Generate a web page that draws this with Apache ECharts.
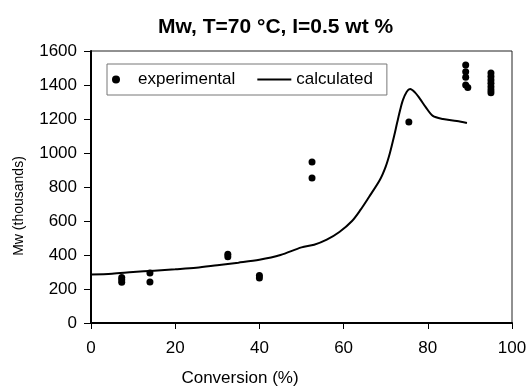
<!DOCTYPE html>
<html><head><meta charset="utf-8">
<script src="https://cdn.jsdelivr.net/npm/echarts@6/dist/echarts.min.js"></script>
<style>html,body{margin:0;padding:0;background:#fff}#c{width:532px;height:390px}</style>
</head><body><div id="c"></div>
<script>
var titleText = 'Mw, T=70 °C, I=0.5 wt %';
var xName = 'Conversion (%)';
var yName = 'Mw (thousands)';
var expX = [7.3, 7.3, 7.3, 14, 14, 32.5, 32.5, 40, 40, 52.5, 52.5, 75.5, 89, 89, 89, 89, 89.5, 95, 95, 95, 95, 95, 95, 95];
var expY = [240, 255, 268, 294, 241, 405, 390, 280, 265, 947, 853, 1182, 1518, 1478, 1445, 1400, 1385, 1470, 1450, 1430, 1410, 1390, 1370, 1355];
var calcX = [0, 5, 10, 15, 20, 25, 30, 35, 40, 45, 50, 53, 56, 59, 62, 64, 66, 68.6, 70, 71, 72, 72.7, 73.5, 74.1, 75, 75.8, 77, 78.1, 79.5, 81.2, 83.6, 86.9, 89.3];
var calcY = [285, 290, 300, 308, 316, 325, 340, 355, 372, 400, 445, 460, 490, 535, 600, 665, 740, 841, 920, 1000, 1100, 1176, 1260, 1312, 1360, 1376, 1355, 1320, 1270, 1218, 1200, 1188, 1176];
var legendNames = ['experimental', 'calculated'];

var font = 'Liberation Sans, Arial, sans-serif';
var chart = echarts.init(document.getElementById('c'));
chart.setOption({
  animation: false,
  backgroundColor: '#fff',
  title: {text: titleText, left: 153, top: 12,
    textStyle: {fontFamily: font, fontSize: 21, fontWeight: 'bold', color: '#000'}},
  legend: {
    data: [{name: legendNames[0], icon: 'circle'}, {name: legendNames[1], icon: 'path://M0,0L34,0L34,2L0,2Z'}],
    left: 107, top: 64,
    itemWidth: 34, itemHeight: 8,
    itemGap: 22, padding: [7, 14, 7, 5],
    borderColor: '#777', borderWidth: 1,
    textStyle: {fontFamily: font, fontSize: 17, color: '#000'}
  },
  grid: {left: 91, right: 20, top: 51, bottom: 67, show: true, borderColor: '#222', borderWidth: 1, containLabel: false},
  graphic: [
    {type: 'text', x: 240, y: 378, style: {text: xName, font: '17px ' + font, fill: '#000', textAlign: 'center', textVerticalAlign: 'middle'}},
    {type: 'text', x: 19, y: 206, rotation: Math.PI / 2, style: {text: yName, font: '14px ' + font, fill: '#000', textAlign: 'center', textVerticalAlign: 'middle'}}
  ],
  xAxis: {
    type: 'value', min: 0, max: 100, interval: 20,
    axisLine: {lineStyle: {color: '#000', width: 2}},
    axisTick: {show: true, length: 6, lineStyle: {color: '#000'}},
    axisLabel: {fontFamily: font, fontSize: 17, color: '#000', margin: 17},
    splitLine: {show: false}
  },
  yAxis: {
    type: 'value', min: 0, max: 1600, interval: 200,
    axisLine: {show: true, lineStyle: {color: '#000', width: 2}},
    axisTick: {show: true, length: 7, lineStyle: {color: '#000'}},
    axisLabel: {fontFamily: font, fontSize: 17, color: '#000', margin: 14, formatter: function (v) { return String(v); }},
    splitLine: {show: false}
  },
  series: [
    {name: legendNames[0], type: 'scatter', symbolSize: 7, itemStyle: {color: '#000', opacity: 1},
      data: expX.map(function (x, i) { return [x, expY[i]]; })},
    {name: legendNames[1], type: 'line', showSymbol: false, smooth: 0.3, symbol: 'none',
      lineStyle: {color: '#000', width: 2}, itemStyle: {color: '#000'},
      data: calcX.map(function (x, i) { return [x, calcY[i]]; })}
  ]
});
</script>
</body></html>
